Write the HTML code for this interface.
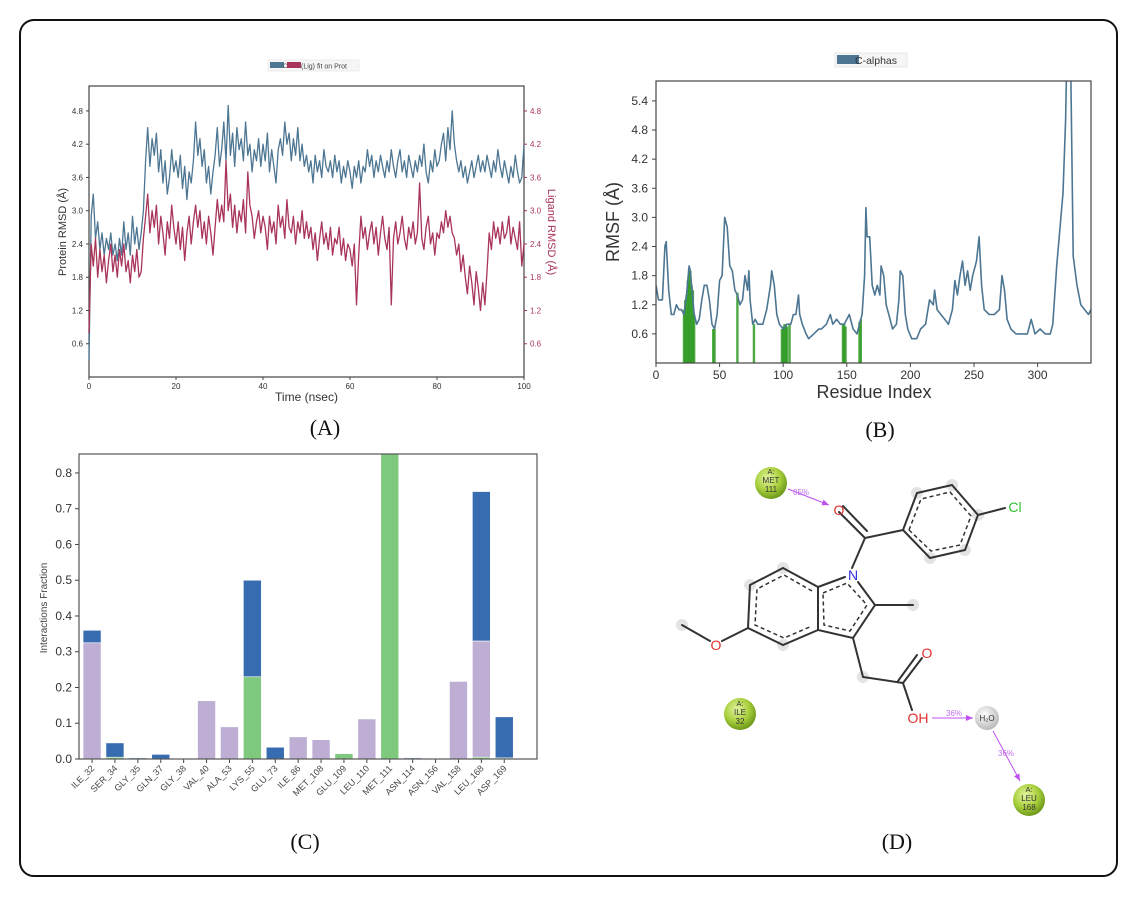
<!DOCTYPE html>
<html><head><meta charset="utf-8"><style>
html,body{margin:0;padding:0;background:#fff;}
svg{display:block;font-family:"Liberation Sans",sans-serif;}
</style></head><body>
<svg id="fig" width="1138" height="899" viewBox="0 0 1138 899" xmlns="http://www.w3.org/2000/svg">
<rect x="0" y="0" width="1138" height="899" fill="#fff"/>
<rect x="20" y="20" width="1097" height="856" rx="14" fill="none" stroke="#111" stroke-width="2"/>
<g id="pA"></g>
<g id="pB"></g>
<g id="pC"></g>
<g id="pD">
 <defs>
  <radialGradient id="gres" cx="40%" cy="35%" r="65%"><stop offset="0" stop-color="#e4f5a0"/><stop offset="0.6" stop-color="#a8cf3c"/><stop offset="1" stop-color="#6f9a1c"/></radialGradient>
  <radialGradient id="gwat" cx="40%" cy="35%" r="65%"><stop offset="0" stop-color="#fff"/><stop offset="1" stop-color="#bbb"/></radialGradient>
  <marker id="arr" markerWidth="8" markerHeight="8" refX="7" refY="4" orient="auto"><path d="M0,1 L7,4 L0,7 z" fill="#c050f0"/></marker>
 </defs>
 <g fill="#ddd" opacity="0.8">
  <circle cx="917" cy="493" r="6"/><circle cx="952" cy="485" r="6"/><circle cx="978" cy="515" r="6"/><circle cx="965" cy="550" r="6"/><circle cx="930" cy="558" r="6"/>
  <circle cx="913" cy="605" r="6"/><circle cx="783" cy="568" r="6"/><circle cx="750" cy="585" r="6"/><circle cx="783" cy="645" r="6"/><circle cx="682" cy="625" r="6"/><circle cx="863" cy="677" r="6"/>
 </g>
 <g stroke="#333" stroke-width="2" fill="none" stroke-linecap="round">
  <path d="M839,512 L865,538 M843,506 L867,531"/>
  <path d="M865,538 L903,530 M865,538 L852,568"/>
  <path d="M903,530 L917,493 L952,485 L978,515 L965,550 L930,558 Z"/>
  <path d="M978,515 L1005,508"/>
  <path d="M858,582 L875,605 L853,638 L818,630 L818,587 L845,577"/>
  <path d="M875,605 L913,605"/>
  <path d="M818,587 L783,568 L750,585 L748,628 L783,645 L818,630"/>
  <path d="M748,628 L722,641 M710,641 L682,625"/>
  <path d="M853,638 L863,677 L903,683 L922,658 M898,681 L917,655 M903,683 L912,710"/>
 </g>
 <g stroke="#333" stroke-width="1.5" fill="none" stroke-dasharray="4,3">
  <path d="M909,530 L921,499 L950,492 L971,516 L960,545 L931,551 Z"/>
  <path d="M823,593 L847,583 L867,605 L850,631 L824,625 Z"/>
  <path d="M812,591 L784,575 L757,589 L755,625 L784,638 L812,626"/>
 </g>
 <g font-size="14" text-anchor="middle">
  <text x="839" y="515" fill="#e03030">O</text>
  <text x="853" y="580" fill="#3030e0">N</text>
  <text x="1015" y="512" fill="#30c030">Cl</text>
  <text x="716" y="650" fill="#e03030">O</text>
  <text x="927" y="658" fill="#e03030">O</text>
  <text x="918" y="723" fill="#e03030">OH</text>
 </g>
 <g><circle cx="771" cy="483" r="16" fill="url(#gres)"/><text x="771" y="474" font-size="7.5" text-anchor="middle" fill="#333">A:</text><text x="771" y="483" font-size="8" text-anchor="middle" fill="#333">MET</text><text x="771" y="492" font-size="8" text-anchor="middle" fill="#333">111</text></g>
 <g><circle cx="740" cy="714" r="16" fill="url(#gres)"/><text x="740" y="706" font-size="7.5" text-anchor="middle" fill="#333">A:</text><text x="740" y="715" font-size="8" text-anchor="middle" fill="#333">ILE</text><text x="740" y="724" font-size="8" text-anchor="middle" fill="#333">32</text></g>
 <g><circle cx="1029" cy="800" r="16" fill="url(#gres)"/><text x="1029" y="792" font-size="7.5" text-anchor="middle" fill="#333">A:</text><text x="1029" y="801" font-size="8" text-anchor="middle" fill="#333">LEU</text><text x="1029" y="810" font-size="8" text-anchor="middle" fill="#333">168</text></g>
 <g><circle cx="987" cy="718" r="12" fill="url(#gwat)"/><text x="987" y="721" font-size="8" text-anchor="middle" fill="#333">H₂O</text></g>
 <g stroke="#c050f0" stroke-width="1" fill="none">
  <path d="M788,489 L829,505" marker-end="url(#arr)"/>
  <path d="M932,718 L973,718" marker-end="url(#arr)"/>
  <path d="M993,731 L1020,781" marker-end="url(#arr)"/>
 </g>
 <g font-size="8" fill="#c070f0">
  <text x="793" y="495">85%</text><text x="946" y="716">36%</text><text x="998" y="756">36%</text>
 </g>
</g>
<g font-family="Liberation Serif,serif" font-size="22" text-anchor="middle" fill="#111">
 <text x="325" y="435">(A)</text>
 <text x="880" y="437">(B)</text>
 <text x="305" y="849">(C)</text>
 <text x="897" y="849">(D)</text>
</g>
</svg>
<script>
// ---------- Panel A data ----------
const rmsdStep = 0.5;
const proteinRmsd = [0.3,2.9,3.3,2.5,2.8,2.3,2.6,2.2,2.5,2.3,2.6,2.2,2.4,2.1,2.5,2.2,2.8,2.3,2.6,2.2,2.9,2.4,2.7,2.3,2.6,
3.0,3.9,4.5,3.8,4.3,4.0,4.4,3.7,4.1,3.5,3.9,3.3,3.6,4.1,3.7,3.9,
3.6,4.0,3.4,3.8,3.2,3.7,3.5,3.9,4.6,4.0,4.3,3.8,4.1,3.5,3.8,3.3,3.7,4.0,4.5,3.8,
4.1,4.6,3.9,4.9,4.0,4.4,3.8,4.5,4.1,4.3,3.9,4.6,4.0,4.2,3.7,4.1,3.9,4.3,3.8,4.2,
3.9,4.4,3.7,4.1,3.8,3.5,4.1,4.3,4.0,4.6,4.2,4.4,3.9,4.3,4.0,4.5,3.9,4.2,3.8,4.0,
3.7,3.9,3.5,4.0,3.7,3.9,3.6,4.1,3.8,3.7,3.9,3.6,4.0,3.7,3.9,3.5,3.8,3.6,3.9,3.7,
3.4,3.8,3.6,3.9,3.5,3.8,3.7,4.1,3.8,4.0,3.6,3.9,3.7,4.0,3.8,3.6,3.9,3.7,4.1,3.8,
3.6,3.9,4.1,3.7,3.9,3.6,4.0,3.8,3.6,3.9,3.7,4.0,3.8,4.2,3.7,3.5,3.9,3.7,4.1,3.8,
3.9,4.2,4.4,3.9,4.5,4.1,4.8,4.2,3.9,3.7,3.9,3.6,3.8,3.5,3.7,3.9,3.6,3.8,4.0,3.7,
3.9,3.7,4.0,3.8,3.6,3.9,3.7,4.1,3.8,3.6,3.9,3.7,3.5,3.8,3.6,4.0,3.7,3.5,3.6,4.2];
const ligandRmsd = [0.8,2.4,2.0,2.5,1.8,2.3,1.9,2.2,1.7,2.1,2.4,1.9,2.2,1.8,2.3,2.0,2.4,1.9,2.1,1.7,2.2,1.9,2.3,1.8,1.9,
2.5,2.9,3.3,2.6,3.0,2.7,3.1,2.4,2.9,2.6,2.2,2.8,2.5,3.1,2.7,2.4,
2.8,2.3,2.7,2.1,2.6,2.9,2.4,2.8,3.1,2.7,3.0,2.5,2.8,2.4,2.9,2.6,2.2,2.7,3.2,2.8,
3.1,2.8,3.9,3.0,3.3,2.7,3.1,2.6,3.0,2.8,3.2,2.6,3.7,3.1,2.9,2.5,2.8,3.0,2.6,2.9,
2.7,2.3,2.9,2.6,2.8,2.4,3.1,2.7,2.9,2.5,3.2,2.7,2.6,2.9,2.4,2.8,2.6,3.0,2.5,2.8,
2.5,2.7,2.3,2.6,2.1,2.5,2.8,2.4,2.6,2.3,2.7,2.2,2.5,2.4,2.7,2.2,2.5,2.1,2.4,2.3,
2.0,2.4,1.3,2.2,2.9,2.5,2.7,2.3,2.6,2.8,2.4,2.7,2.2,2.6,2.9,2.5,2.3,2.7,1.3,2.5,
2.8,2.4,2.6,2.9,2.5,2.3,2.7,2.5,2.8,2.4,2.6,3.5,2.5,2.3,2.7,2.9,2.4,2.6,2.2,2.6,
2.5,2.8,2.6,3.0,2.7,2.9,2.6,2.5,2.2,2.4,1.9,2.2,1.8,1.5,2.0,1.7,1.3,1.9,1.6,1.2,
1.7,1.3,1.9,2.6,2.3,2.8,2.5,2.7,2.4,2.8,2.5,2.6,2.9,2.4,2.7,2.5,2.3,2.8,2.0,2.4];
const rmsdYTicks = [0.6,1.2,1.8,2.4,3.0,3.6,4.2,4.8];
const timeTicks = [0,20,40,60,80,100];

// ---------- Panel B data ----------
const rmsfResidues = [0,2,5,7,8,10,12,14,16,18,20,22,24,26,27,28,30,32,34,36,38,40,42,44,46,48,50,52,54,56,58,60,62,64,66,68,70,72,73,74,76,78,80,84,87,90,91,93,95,97,100,103,106,108,110,112,113,115,118,120,124,128,130,134,137,139,142,145,148,152,155,158,160,162,164,165,166,168,170,172,174,176,177,179,181,183,186,189,191,192,194,196,198,201,205,208,212,215,218,219,221,224,227,230,233,235,237,239,241,243,245,247,249,252,254,256,258,262,266,270,272,274,276,279,283,287,292,295,298,302,306,310,312,315,318,320,322,323,326,328,331,334,337,340,342];
const rmsfValues = [1.6,1.3,1.3,2.4,2.5,1.5,1.0,1.0,1.2,1.1,1.1,1.0,1.4,2.0,1.9,1.6,1.0,0.8,0.9,1.3,1.6,1.6,1.3,0.8,0.7,1.0,1.7,1.8,3.0,2.8,2.0,1.9,1.5,1.4,1.2,1.3,1.8,1.5,1.9,1.3,0.8,0.9,0.8,0.8,1.1,1.6,1.9,1.6,1.0,0.8,0.7,0.8,0.8,1.0,1.0,1.4,1.0,0.8,0.6,0.5,0.6,0.7,0.7,0.8,1.0,0.8,0.9,0.8,0.8,1.0,0.7,0.6,0.8,1.0,1.8,3.2,2.6,2.6,1.6,1.4,1.6,1.4,2.0,1.8,1.2,1.0,0.7,0.8,1.3,1.9,1.8,1.0,0.7,0.5,0.5,0.7,0.8,1.3,1.2,1.5,1.1,1.0,0.9,0.8,1.1,1.7,1.4,1.8,2.1,1.6,1.9,1.5,1.8,2.1,2.6,1.6,1.1,1.0,1.0,1.1,1.8,1.5,0.9,0.7,0.6,0.6,0.6,0.9,0.6,0.7,0.6,0.6,0.8,2.0,2.9,3.5,5.0,7.5,6.5,2.2,1.6,1.2,1.1,1.0,1.1];
const contactResidues = [22,23,24,25,26,27,28,29,30,45,46,64,77,99,100,101,102,103,105,147,148,149,160,161];
const contactHeights = [1.1,1.3,1.4,1.7,1.95,1.9,1.6,1.5,1.0,0.7,0.7,1.45,0.8,0.7,0.75,0.8,0.8,0.75,0.8,0.8,0.8,0.75,0.85,0.9];
const rmsfYTicks = [0.6,1.2,1.8,2.4,3.0,3.6,4.2,4.8,5.4];
const residueTicks = [0,50,100,150,200,250,300];

// ---------- Panel C data ----------
const residueNames = ["ILE_32","SER_34","GLY_35","GLN_37","GLY_38","VAL_40","ALA_53","LYS_55","GLU_73","ILE_86","MET_108","GLU_109","LEU_110","MET_111","ASN_114","ASN_156","VAL_158","LEU_168","ASP_169"];
const hbondFrac =       [0,0.005,0,0,0,0,0,0.23,0,0,0,0.015,0,0.86,0,0,0,0.005,0.003];
const hydrophobicFrac = [0.325,0,0,0,0,0.163,0.09,0,0,0.062,0.054,0,0.112,0,0,0,0.217,0.325,0];
const waterBridgeFrac = [0.035,0.04,0.003,0.013,0,0,0,0.27,0.033,0,0,0,0,0,0.003,0,0,0.418,0.115];
const fracTicks = [0.0,0.1,0.2,0.3,0.4,0.5,0.6,0.7,0.8];

const NS = "http://www.w3.org/2000/svg";
function mk(parent, tag, attrs, text){
  const e = document.createElementNS(NS, tag);
  for (const k in attrs) e.setAttribute(k, attrs[k]);
  if (text !== undefined) e.textContent = text;
  parent.appendChild(e);
  return e;
}

// ===== Panel A =====
(function(){
  const g = document.getElementById('pA');
  const L=89,R=524,T=86,B=377, ymax=5.25;
  const xA = t => L + t/100*(R-L);
  const yA = v => B - v/ymax*(B-T);
  const frame = mk(g,'rect',{x:L,y:T,width:R-L,height:B-T,fill:'none',stroke:'#444','stroke-width':1.2});
  
  
  let d='';
  proteinRmsd.forEach((v,i)=>{ d += (i?'L':'M') + xA(i*rmsdStep).toFixed(1)+','+yA(v).toFixed(1); });
  const pl = mk(g,'path',{d:d,fill:'none',stroke:'#4d7693','stroke-width':1.3,'stroke-linejoin':'round'});
  
  
  d='';
  ligandRmsd.forEach((v,i)=>{ d += (i?'L':'M') + xA(i*rmsdStep).toFixed(1)+','+yA(v).toFixed(1); });
  const ll = mk(g,'path',{d:d,fill:'none',stroke:'#a83459','stroke-width':1.3,'stroke-linejoin':'round'});
  
  
  rmsdYTicks.forEach(v=>{
    const y=yA(v);
    mk(g,'line',{x1:L-3,x2:L,y1:y,y2:y,stroke:'#444'});
    const t1 = mk(g,'text',{x:L-6,y:y+3,'font-size':8,'text-anchor':'end',fill:'#333'}, v.toFixed(1));
    
    
    mk(g,'line',{x1:R,x2:R+3,y1:y,y2:y,stroke:'#a83459'});
    const t2 = mk(g,'text',{x:R+6,y:y+3,'font-size':8,'text-anchor':'start',fill:'#a83459'}, v.toFixed(1));
    
    
  });
  timeTicks.forEach(v=>{
    const x=xA(v);
    mk(g,'line',{x1:x,x2:x,y1:B,y2:B+3,stroke:'#444'});
    const t = mk(g,'text',{x:x,y:B+12,'font-size':8,'text-anchor':'middle',fill:'#333'}, String(v));
    
    
  });
  const xt = mk(g,'text',{x:(L+R)/2,y:401,'font-size':12,'text-anchor':'middle',fill:'#333'},'Time (nsec)');
  
  
  const yl = mk(g,'text',{x:0,y:0,'font-size':11,'text-anchor':'middle',fill:'#333',transform:'translate(66,232) rotate(-90)'},'Protein RMSD (Å)');
  
  
  const yr = mk(g,'text',{x:0,y:0,'font-size':11,'text-anchor':'middle',fill:'#a83459',transform:'translate(548,232) rotate(90)'},'Ligand RMSD (Å)');
  
  
  const lg = mk(g,'g',{});
  
  
  mk(lg,'rect',{x:268,y:60,width:91,height:11,fill:'#f6f6f6',stroke:'#ddd','stroke-width':0.5});
  mk(lg,'rect',{x:270,y:62,width:14,height:6,fill:'#4d7693'});
  mk(lg,'text',{x:283,y:68,'font-size':6,fill:'#555'},'Cα');
  mk(lg,'rect',{x:287,y:62,width:14,height:6,fill:'#a83459'});
  mk(lg,'text',{x:301,y:68.5,'font-size':7,fill:'#444'},'(Lig) fit on Prot');
})();

// ===== Panel B =====
(function(){
  const g = document.getElementById('pB');
  const L=656,R=1091,T=81,B=363, xmax=342, ymax=5.81;
  const xB = r => L + r/xmax*(R-L);
  const yB = v => B - Math.min(v,ymax+0.5)/ymax*(B-T);
  const clip = mk(g,'clipPath',{id:'clipB'});
  mk(clip,'rect',{x:L,y:T,width:R-L,height:B-T});
  contactResidues.forEach((r,i)=>{
    const x=xB(r);
    const b = mk(g,'rect',{x:x-1.2,y:yB(contactHeights[i]),width:2.4,height:B-yB(contactHeights[i]),fill:'#2e9a22',opacity:0.85});
    
    
  });
  let d='';
  rmsfResidues.forEach((r,i)=>{ d += (i?'L':'M') + xB(r).toFixed(1)+','+yB(rmsfValues[i]).toFixed(1); });
  const ln = mk(g,'path',{d:d,fill:'none',stroke:'#4d7693','stroke-width':1.6,'stroke-linejoin':'round','clip-path':'url(#clipB)'});
  
  
  const fr = mk(g,'rect',{x:L,y:T,width:R-L,height:B-T,fill:'none',stroke:'#444','stroke-width':1.2});
  
  
  rmsfYTicks.forEach(v=>{
    const y=yB(v);
    mk(g,'line',{x1:L-4,x2:L,y1:y,y2:y,stroke:'#444'});
    const t = mk(g,'text',{x:L-8,y:y+4,'font-size':12,'text-anchor':'end',fill:'#333'}, v.toFixed(1));
    
    
  });
  residueTicks.forEach(v=>{
    const x=xB(v);
    mk(g,'line',{x1:x,x2:x,y1:B,y2:B+4,stroke:'#444'});
    const t = mk(g,'text',{x:x,y:B+16,'font-size':12,'text-anchor':'middle',fill:'#333'}, String(v));
    
    
  });
  const xt = mk(g,'text',{x:874,y:398,'font-size':18,'text-anchor':'middle',fill:'#333'},'Residue Index');
  
  
  const yt = mk(g,'text',{x:0,y:0,'font-size':18,'text-anchor':'middle',fill:'#333',transform:'translate(619,222) rotate(-90)'},'RMSF (Å)');
  
  
  const lg = mk(g,'g',{});
  
  
  mk(lg,'rect',{x:835,y:53,width:72,height:14,fill:'#f6f6f6',stroke:'#ddd','stroke-width':0.6});
  mk(lg,'rect',{x:837,y:55,width:22,height:9,fill:'#4d7693'});
  mk(lg,'text',{x:855,y:64,'font-size':10.5,fill:'#333'},'C-alphas');
})();

// ===== Panel C =====
(function(){
  const g = document.getElementById('pC');
  const L=79,R=537,T=454,B=759, xmin=-0.57, xmax=19.43, ymax=0.853;
  const xC = i => L + (i-xmin)/(xmax-xmin)*(R-L);
  const yC = v => B - Math.min(v,ymax)/ymax*(B-T);
  const bw = 18;
  residueNames.forEach((name,i)=>{
    const x = xC(i);
    let base = 0;
    [[hbondFrac,'#7fc97f','hbond'],[hydrophobicFrac,'#beaed4','hydrophobic'],[waterBridgeFrac,'#386cb0','water-bridge']].forEach(s=>{
      const v = s[0][i];
      if (v>0){
        const y0=yC(base), y1=yC(base+v);
        const r = mk(g,'rect',{x:x-bw/2,y:y1,width:bw,height:Math.max(y0-y1,0.6),fill:s[1],stroke:'#fff','stroke-width':0.6});
        
        
      }
      base += v;
    });
    mk(g,'line',{x1:x,x2:x,y1:B,y2:B+4,stroke:'#444'});
    const t = mk(g,'text',{x:0,y:0,'font-size':9,'text-anchor':'end',fill:'#444',transform:'translate('+(x+3)+','+(B+10)+') rotate(-45)'}, name);
    
    
  });
  const fr = mk(g,'rect',{x:L,y:T,width:R-L,height:B-T,fill:'none',stroke:'#555','stroke-width':1.2});
  
  
  fracTicks.forEach(v=>{
    const y=yC(v);
    mk(g,'line',{x1:L-4,x2:L,y1:y,y2:y,stroke:'#444'});
    const t = mk(g,'text',{x:L-7,y:y+4,'font-size':12,'text-anchor':'end',fill:'#333'}, v.toFixed(1));
    
    
  });
  const yt = mk(g,'text',{x:0,y:0,'font-size':10,'text-anchor':'middle',fill:'#444',transform:'translate(47,608) rotate(-90)'},'Interactions Fraction');
  
  
})();
</script>
</body></html>
